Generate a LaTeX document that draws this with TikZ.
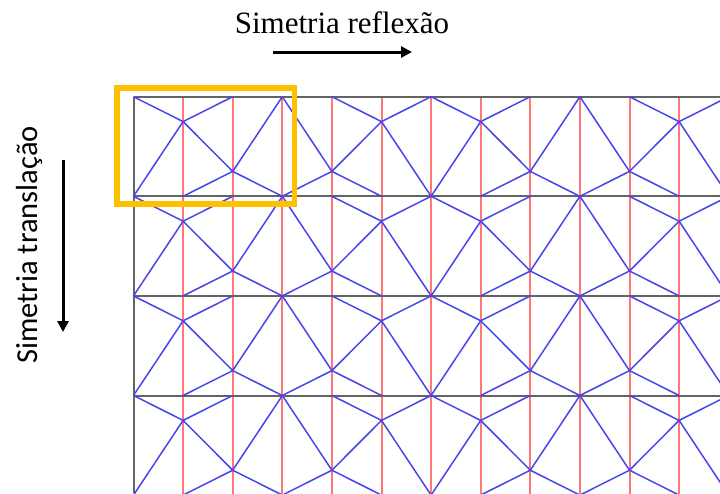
\documentclass[tikz,border=0pt]{standalone}
\usepackage{fontspec}
\setmainfont{Liberation Serif}
\newfontfamily\calibri{Carlito}
\usepackage{xcolor}
\usetikzlibrary{arrows.meta}
\definecolor{motifblue}{RGB}{70,70,235}
\definecolor{mirrorred}{RGB}{255,120,120}
\definecolor{gridgray}{RGB}{100,100,100}
\definecolor{tilegold}{RGB}{255,192,0}

\begin{document}
\begin{tikzpicture}[x=1pt,y=-1pt,
  motif/.style={motifblue,line width=1.5pt},
  mirror/.style={mirrorred,line width=2pt},
  rowline/.style={gridgray,line width=2pt},
  axisarrow/.style={-{Triangle[length=11pt,width=11pt]},line width=3pt},
  pics/tile/.style={code={
    \draw[motif] (0,0)--(49.6,24.9)--(99.2,0) (49.6,24.9)--(0,99.6)
      (49.6,24.9)--(99.2,74.7)--(148.8,0) (99.2,74.7)--(49.6,99.6)
      (99.2,74.7)--(148.8,99.6);
  }}]
\useasboundingbox (0,0) rectangle (720,493);
\begin{scope}
\clip (0,0) rectangle (720,493);
\foreach \k in {1,...,12} \draw[mirror] (133.5+\k*49.6,96.7) -- +(0,400);
\foreach \r in {0,...,3} \draw[rowline] (133.5,96.7+\r*99.6) -- (720,96.7+\r*99.6);
\draw[rowline] (133.5,96.7) -- (133.5,493);
\foreach \r in {0,...,3}{
  \foreach \t in {0,2}{
    \pic at (133.5+\t*148.8,96.7+\r*99.6) {tile};
    \pic[xscale=-1] at (133.5+\t*148.8+297.6,96.7+\r*99.6) {tile};
  }
}
\end{scope}
\node[draw=tilegold,line width=5.5pt,minimum width=177.5pt,minimum height=116pt,inner sep=0pt] (tilebox) at (205.75,146) {};
% reflection direction
\node[font=\fontsize{31}{36}\selectfont,anchor=base] (reflex) at (342,33) {Simetria reflexão};
\coordinate (rs) at (273,52);
\coordinate (re) at (412,52);
\draw[axisarrow] (rs) -- (re);
% translation direction
\node[font=\calibri\fontsize{30.5}{36}\selectfont,rotate=90,anchor=base] (transl) at (37,245) {Simetria translação};
\coordinate (ts) at (63,160);
\coordinate (te) at (63,332);
\draw[axisarrow] (ts) -- (te);
\end{tikzpicture}
\end{document}
